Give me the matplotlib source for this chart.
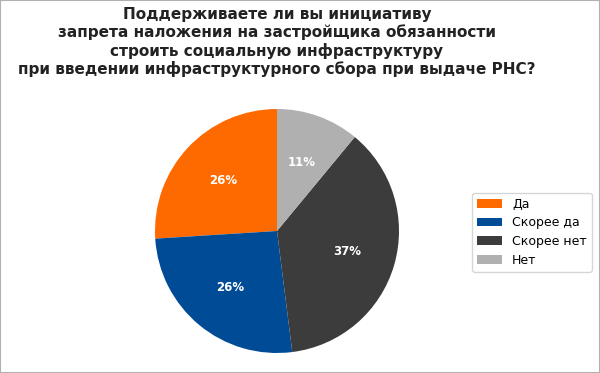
import matplotlib
matplotlib.use("Agg")
import matplotlib.pyplot as plt
from matplotlib.patches import Rectangle

# survey answers
labels = ["Да", "Скорее да", "Скорее нет", "Нет"]
values = [26, 26, 37, 11]
colors = ["#ff6a00", "#004b96", "#3c3c3c", "#b0b0b0"]

title = ("Поддерживаете ли вы инициативу\n"
         "запрета наложения на застройщика обязанности\n"
         "строить социальную инфраструктуру\n"
         "при введении инфраструктурного сбора при выдаче РНС?")

fig = plt.figure(figsize=(6, 3.73), dpi=100)

# pie axes: centre ~ (277, 231) px, radius ~122 px
ax = fig.add_axes([(277 - 122) / 600, (373 - 353) / 373, 244 / 600, 244 / 373])
wedges, texts, autotexts = ax.pie(
    values,
    colors=colors,
    startangle=90,
    counterclock=True,
    autopct="%d%%",
    pctdistance=0.6,
    textprops={"color": "white", "fontweight": "bold", "fontsize": 8.5},
)
ax.set_xlim(-1, 1)
ax.set_ylim(-1, 1)
ax.set_aspect("equal")

fig.text(277 / 600, 0.982, title, ha="center", va="top",
         fontsize=11, fontweight="bold", color="#222222", linespacing=1.2)

fig.legend(wedges, labels, loc="upper left", bbox_to_anchor=(0.787, 0.483),
           borderaxespad=0, fontsize=9, frameon=True, handlelength=2.0,
           labelspacing=0.45)

# thin grey frame around the whole figure
fig.patches.append(Rectangle((0, 0), 1, 1, transform=fig.transFigure,
                             fill=False, edgecolor="#b0b0b0", linewidth=1.5))

fig.savefig("out.png", dpi=100)
